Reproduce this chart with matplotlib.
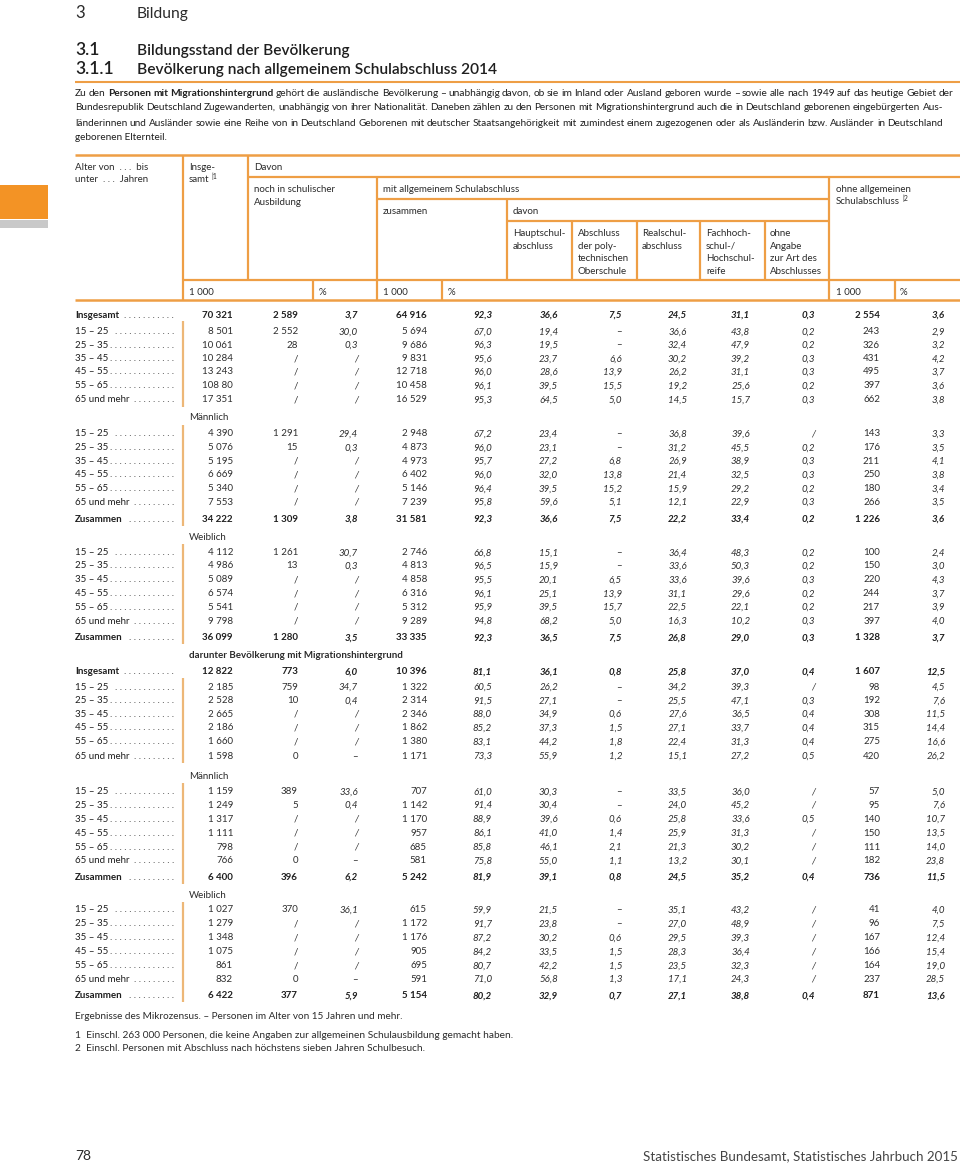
import matplotlib
matplotlib.use("Agg")
import matplotlib.pyplot as plt
from matplotlib.patches import Rectangle

# ---------------- data ----------------
age_labels = ["15 – 25", "25 – 35", "35 – 45", "45 – 55", "55 – 65", "65 und mehr"]
row_labels = (["Insgesamt"] + age_labels
              + age_labels + ["Zusammen"]
              + age_labels + ["Zusammen"]
              + ["Insgesamt"] + age_labels
              + age_labels + ["Zusammen"]
              + age_labels + ["Zusammen"])

section_labels = ["Männlich", "Weiblich", "darunter Bevölkerung mit Migrationshintergrund",
                  "Männlich", "Weiblich"]

insgesamt = ["70 321", "8 501", "10 061", "10 284", "13 243", "108 80", "17 351",
             "4 390", "5 076", "5 195", "6 669", "5 340", "7 553", "34 222",
             "4 112", "4 986", "5 089", "6 574", "5 541", "9 798", "36 099",
             "12 822", "2 185", "2 528", "2 665", "2 186", "1 660", "1 598",
             "1 159", "1 249", "1 317", "1 111", "798", "766", "6 400",
             "1 027", "1 279", "1 348", "1 075", "861", "832", "6 422"]
noch_1000 = ["2 589", "2 552", "28", "/", "/", "/", "/",
             "1 291", "15", "/", "/", "/", "/", "1 309",
             "1 261", "13", "/", "/", "/", "/", "1 280",
             "773", "759", "10", "/", "/", "/", "0",
             "389", "5", "/", "/", "/", "0", "396",
             "370", "/", "/", "/", "/", "0", "377"]
noch_pct = ["3,7", "30,0", "0,3", "/", "/", "/", "/",
            "29,4", "0,3", "/", "/", "/", "/", "3,8",
            "30,7", "0,3", "/", "/", "/", "/", "3,5",
            "6,0", "34,7", "0,4", "/", "/", "/", "–",
            "33,6", "0,4", "/", "/", "/", "–", "6,2",
            "36,1", "/", "/", "/", "/", "–", "5,9"]
mit_1000 = ["64 916", "5 694", "9 686", "9 831", "12 718", "10 458", "16 529",
            "2 948", "4 873", "4 973", "6 402", "5 146", "7 239", "31 581",
            "2 746", "4 813", "4 858", "6 316", "5 312", "9 289", "33 335",
            "10 396", "1 322", "2 314", "2 346", "1 862", "1 380", "1 171",
            "707", "1 142", "1 170", "957", "685", "581", "5 242",
            "615", "1 172", "1 176", "905", "695", "591", "5 154"]
mit_pct = ["92,3", "67,0", "96,3", "95,6", "96,0", "96,1", "95,3",
           "67,2", "96,0", "95,7", "96,0", "96,4", "95,8", "92,3",
           "66,8", "96,5", "95,5", "96,1", "95,9", "94,8", "92,3",
           "81,1", "60,5", "91,5", "88,0", "85,2", "83,1", "73,3",
           "61,0", "91,4", "88,9", "86,1", "85,8", "75,8", "81,9",
           "59,9", "91,7", "87,2", "84,2", "80,7", "71,0", "80,2"]
haupt = ["36,6", "19,4", "19,5", "23,7", "28,6", "39,5", "64,5",
         "23,4", "23,1", "27,2", "32,0", "39,5", "59,6", "36,6",
         "15,1", "15,9", "20,1", "25,1", "39,5", "68,2", "36,5",
         "36,1", "26,2", "27,1", "34,9", "37,3", "44,2", "55,9",
         "30,3", "30,4", "39,6", "41,0", "46,1", "55,0", "39,1",
         "21,5", "23,8", "30,2", "33,5", "42,2", "56,8", "32,9"]
poly = ["7,5", "–", "–", "6,6", "13,9", "15,5", "5,0",
        "–", "–", "6,8", "13,8", "15,2", "5,1", "7,5",
        "–", "–", "6,5", "13,9", "15,7", "5,0", "7,5",
        "0,8", "–", "–", "0,6", "1,5", "1,8", "1,2",
        "–", "–", "0,6", "1,4", "2,1", "1,1", "0,8",
        "–", "–", "0,6", "1,5", "1,5", "1,3", "0,7"]
real = ["24,5", "36,6", "32,4", "30,2", "26,2", "19,2", "14,5",
        "36,8", "31,2", "26,9", "21,4", "15,9", "12,1", "22,2",
        "36,4", "33,6", "33,6", "31,1", "22,5", "16,3", "26,8",
        "25,8", "34,2", "25,5", "27,6", "27,1", "22,4", "15,1",
        "33,5", "24,0", "25,8", "25,9", "21,3", "13,2", "24,5",
        "35,1", "27,0", "29,5", "28,3", "23,5", "17,1", "27,1"]
fach = ["31,1", "43,8", "47,9", "39,2", "31,1", "25,6", "15,7",
        "39,6", "45,5", "38,9", "32,5", "29,2", "22,9", "33,4",
        "48,3", "50,3", "39,6", "29,6", "22,1", "10,2", "29,0",
        "37,0", "39,3", "47,1", "36,5", "33,7", "31,3", "27,2",
        "36,0", "45,2", "33,6", "31,3", "30,2", "30,1", "35,2",
        "43,2", "48,9", "39,3", "36,4", "32,3", "24,3", "38,8"]
ohne_angabe = ["0,3", "0,2", "0,2", "0,3", "0,3", "0,2", "0,3",
               "/", "0,2", "0,3", "0,3", "0,2", "0,3", "0,2",
               "0,2", "0,2", "0,3", "0,2", "0,2", "0,3", "0,3",
               "0,4", "/", "0,3", "0,4", "0,4", "0,4", "0,5",
               "/", "/", "0,5", "/", "/", "/", "0,4",
               "/", "/", "/", "/", "/", "/", "0,4"]
ohne_1000 = ["2 554", "243", "326", "431", "495", "397", "662",
             "143", "176", "211", "250", "180", "266", "1 226",
             "100", "150", "220", "244", "217", "397", "1 328",
             "1 607", "98", "192", "308", "315", "275", "420",
             "57", "95", "140", "150", "111", "182", "736",
             "41", "96", "167", "166", "164", "237", "871"]
ohne_pct = ["3,6", "2,9", "3,2", "4,2", "3,7", "3,6", "3,8",
            "3,3", "3,5", "4,1", "3,8", "3,4", "3,5", "3,6",
            "2,4", "3,0", "4,3", "3,7", "3,9", "4,0", "3,7",
            "12,5", "4,5", "7,6", "11,5", "14,4", "16,6", "26,2",
            "5,0", "7,6", "10,7", "13,5", "14,0", "23,8", "11,5",
            "4,0", "7,5", "12,4", "15,4", "19,0", "28,5", "13,6"]

# ---------------- layout ----------------
W, H = 960, 1163
fig = plt.figure(figsize=(W / 100, H / 100), dpi=100)
ax = fig.add_axes([0, 0, 1, 1])
ax.set_xlim(0, W)
ax.set_ylim(H, 0)
ax.axis("off")
renderer = fig.canvas.get_renderer()

FONT = ["Lato", "DejaVu Sans"]
NARROW = ["Liberation Sans Narrow", "Lato", "DejaVu Sans"]
TXT = "#1f1f1f"
ORANGE = "#EE9E45"
ORANGE_L = "#EDB777"
FS = 7.0


def T(x, y, s, size=FS, ha="left", weight="normal", style="normal", color=TXT, family=FONT):
    return ax.text(x, y, s, fontsize=size, ha=ha, va="baseline", fontweight=weight,
                   fontstyle=style, color=color, family=family)


def width(t):
    return t.get_window_extent(renderer=renderer).width


def fit(x, y, s, target, size=FS, **kw):
    t = T(x, y, s, size=size, **kw)
    t.set_fontsize(size * target / width(t))
    return t


def justify(x0, x1, y, words, size):
    while True:
        ts = [T(0, y, w, size=size, weight="bold" if b else "normal") for w, b in words]
        ws = [width(t) for t in ts]
        gap = (x1 - x0 - sum(ws)) / (len(ws) - 1)
        if gap >= 2.0 or size < 5:
            break
        for t in ts:
            t.remove()
        size *= 0.98
    x = x0
    for t, w in zip(ts, ws):
        t.set_x(x)
        x += w + gap
    return size


def hline(y, x0, x1, color=ORANGE, lw=1.6):
    ax.plot([x0, x1], [y, y], color=color, lw=lw, solid_capstyle="butt")


def vline(x, y0, y1, color=ORANGE, lw=1.6):
    ax.plot([x, x], [y0, y1], color=color, lw=lw, solid_capstyle="butt")


# decorative tab at the left
ax.add_patch(Rectangle((0, 185), 48, 34, color="#F39325", lw=0))
ax.add_patch(Rectangle((0, 220), 48, 8, color="#C9C9C9", lw=0))

# titles
T(75, 18.3, "3", size=12, color="#2a2a2a")
fit(137, 18.3, "Bildung", 52, size=12, color="#2a2a2a")
T(75, 55, "3.1", size=12.5, weight="semibold")
fit(137, 55, "Bildungsstand der Bevölkerung", 213, size=12.5, weight="semibold")
T(75, 74, "3.1.1", size=12.5, weight="semibold")
fit(137, 74, "Bevölkerung nach allgemeinem Schulabschluss 2014", 361, size=12.5, weight="semibold")
hline(82, 75, 960, lw=1.5)

# intro paragraph
line1 = ("Zu den |Personen mit Migrationshintergrund| gehört die ausländische Bevölkerung – "
         "unabhängig davon, ob sie im Inland oder Ausland geboren wurde – sowie alle nach 1949 "
         "auf das heutige Gebiet der")
parts = line1.split("|")
words1 = []
for i, p in enumerate(parts):
    words1 += [(w, i == 1) for w in p.split()]
line2 = ("Bundesrepublik Deutschland Zugewanderten, unabhängig von ihrer Nationalität. Daneben "
         "zählen zu den Personen mit Migrationshintergrund auch die in Deutschland geborenen "
         "eingebürgerten Aus-")
line3 = ("länderinnen und Ausländer sowie eine Reihe von in Deutschland Geborenen mit deutscher "
         "Staatsangehörigkeit mit zumindest einem zugezogenen oder als Ausländerin bzw. Ausländer "
         "in Deutschland")
PFS = 7.8
s1 = justify(75, 953, 96, words1, PFS)
s2 = justify(75, 943, 110.5, [(w, False) for w in line2.split()], s1)
s3 = justify(75, 943, 125.5, [(w, False) for w in line3.split()], s2)
T(75, 140, "geborenen Elternteil.", size=s3)

# ---------------- table header ----------------
hline(155, 75, 960, lw=1.8)
hline(177, 248, 960)
hline(199, 377, 829)
hline(221, 507, 829)
hline(280, 183, 960)
hline(300, 75, 960, lw=1.8)
vline(183, 155, 300)
vline(248, 155, 280)
vline(377, 177, 300)
vline(507, 199, 280)
for xv in (572, 637, 700, 765):
    vline(xv, 221, 280)
vline(829, 177, 300)
for xv in (313, 442, 895):
    vline(xv, 280, 300)

HC = "#2b2b2b"
b = 3.5
T(75, 166.7 + b, "Alter von  . . .  bis", color=HC)
T(75, 179 + b, "unter  . . .  Jahren", color=HC)
t = T(189, 166.7 + b, "Insge-", color=HC)
t = T(189, 179 + b, "samt", color=HC)
T(189 + width(t) + 2, 179 + b - 3.5, "|1", size=5, color=HC)
T(254, 166.7 + b, "Davon", color=HC)
T(254, 188.3 + b, "noch in schulischer", color=HC)
T(254, 201.5 + b, "Ausbildung", color=HC)
T(383, 188.3 + b, "mit allgemeinem Schulabschluss", color=HC)
T(383, 211 + b, "zusammen", color=HC)
T(513, 211 + b, "davon", color=HC)
sub_heads = [(513, ["Hauptschul-", "abschluss"]),
             (578, ["Abschluss", "der poly-", "technischen", "Oberschule"]),
             (642, ["Realschul-", "abschluss"]),
             (706, ["Fachhoch-", "schul-/", "Hochschul-", "reife"]),
             (770, ["ohne", "Angabe", "zur Art des", "Abschlusses"])]
for xh, lines in sub_heads:
    for i, s in enumerate(lines):
        T(xh, 232.7 + b + i * 12.5, s, color=HC)
T(836, 188.3 + b, "ohne allgemeinen", color=HC)
t = T(836, 200.5 + b, "Schulabschluss", color=HC)
T(836 + width(t) + 2, 200.5 + b - 3.5, "|2", size=5, color=HC)
for xu, s in ((189, "1 000"), (319, "%"), (383, "1 000"), (448, "%"), (836, "1 000"), (900, "%")):
    T(xu, 291.5 + b, s, color=HC)

# ---------------- table body ----------------
row_y = [314, 330.7, 344, 357.7, 371, 385, 399,
         432.7, 446.7, 460, 473.7, 487.7, 501.3, 518.3,
         551.7, 565, 579, 592.7, 606.3, 620.3, 636.7,
         670.7, 686.3, 699.7, 713.3, 727, 741, 755.5,
         790.7, 804.3, 818.3, 832, 846, 859.7, 876.3,
         909, 923, 936.7, 950.7, 964.7, 978.3, 994.7]
section_y = [416.7, 536.7, 655, 775.7, 895]
segments = [(321, 407), (425, 526), (544, 644), (678, 763), (783, 884), (902, 1002)]

for (y0, y1) in segments:
    vline(183, y0, y1, color=ORANGE_L, lw=1.6)

for lab, ys in zip(section_labels, section_y):
    T(189, ys + b, lab, weight="bold" if lab.startswith("darunter") else "normal", color=HC)

columns = [(insgesamt, 233, False), (noch_1000, 298, False), (noch_pct, 358, True),
           (mit_1000, 427, False), (mit_pct, 492, True), (haupt, 558, True),
           (poly, 622, True), (real, 687, True), (fach, 750, True),
           (ohne_angabe, 815, True), (ohne_1000, 880, False), (ohne_pct, 945, True)]

t1 = T(300, 500, ".")
t2 = T(300, 500, ". .")
pitch = width(t2) - width(t1)
t1.remove()
t2.remove()

for i, (lab, yc) in enumerate(zip(row_labels, row_y)):
    bold = lab in ("Insgesamt", "Zusammen")
    wgt = "bold" if bold else "normal"
    tl = T(75, yc + b, lab, weight=wgt)
    start = 75 + width(tl) + 4
    n = max(1, int((174 - start) / pitch) + 1)
    T(174, yc + b, " ".join(["."] * n), ha="right", color=HC)
    for vals, xr, ital in columns:
        v = vals[i]
        st = "italic" if (ital and v != "–") else "normal"
        T(xr, yc + b, v, ha="right", weight=wgt, style=st, color=TXT if bold else "#2e2e2e")

# ---------------- footnotes ----------------
fit(75, 1019, "Ergebnisse des Mikrozensus. – Personen im Alter von 15 Jahren und mehr.", 325,
    size=7, family=NARROW, color=HC)
fit(75, 1038, "1  Einschl. 263 000 Personen, die keine Angaben zur allgemeinen Schulausbildung gemacht haben.",
    436, size=7, family=NARROW, color=HC)
fit(75, 1051, "2  Einschl. Personen mit Abschluss nach höchstens sieben Jahren Schulbesuch.", 347,
    size=7, family=NARROW, color=HC)

T(75, 1160, "78", size=10, color="#2a2a2a")
fit(958, 1160, "Statistisches Bundesamt, Statistisches Jahrbuch 2015", 315, size=10, ha="right",
    color="#444444")

fig.savefig("out.png", dpi=100)
